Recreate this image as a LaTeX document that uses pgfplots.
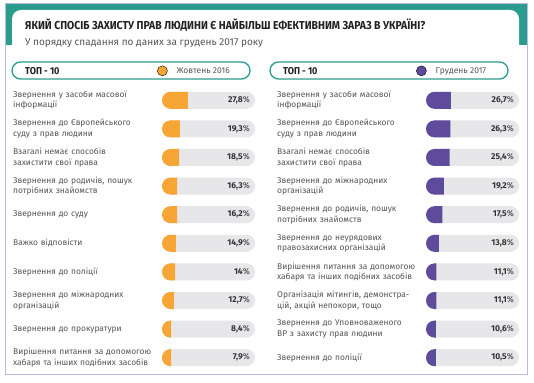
\documentclass[border=0pt]{standalone}
\usepackage{pgfplots}
\pgfplotsset{compat=1.18}
\usepackage{pgfplotstable}
\usepackage{fontspec}
\setmainfont{Fira Sans}
\newfontfamily\condfont[FakeStretch=0.905]{Fira Sans}
\definecolor{tealc}{HTML}{2A9C8E}
\definecolor{framec}{HTML}{B9BAE0}
\definecolor{orangec}{HTML}{F7A534}
\definecolor{purplec}{HTML}{5E4B9C}
\definecolor{trackc}{HTML}{E7E7E9}
\definecolor{labc}{HTML}{555555}
\definecolor{valc}{HTML}{333333}

% left half-disc mark (rounded left end of a filled bar)
\pgfdeclareplotmark{lhd}{%
  \pgfpathmoveto{\pgfqpoint{0.6pt}{\pgfplotmarksize}}%
  \pgfpathlineto{\pgfqpoint{0pt}{\pgfplotmarksize}}%
  \pgfpatharc{90}{270}{\pgfplotmarksize}%
  \pgfpathlineto{\pgfqpoint{0.6pt}{-\pgfplotmarksize}}%
  \pgfpathclose
  \pgfusepathqfill}

\pgfplotstableread{
row val
1 27.8
2 19.3
3 18.5
4 16.3
5 16.2
6 14.9
7 14
8 12.7
9 8.4
10 7.9
}\lefttab
\pgfplotstableread{
row val
1 26.7
2 26.3
3 25.4
4 19.2
5 17.5
6 13.8
7 11.1
8 11.1
9 10.6
10 10.5
}\righttab

\pgfplotsset{
  geom/.style={
    scale only axis, width=93pt, height=286pt,
    ymin=0.5, ymax=10.5, y dir=reverse, clip=false,
  },
  panel/.style={geom,
    xmin=0, xmax=100,
    axis line style={draw=none}, xtick=\empty, ytick={1,...,10},
    major tick length=0pt,
    yticklabel style={anchor=west, text width=145pt, align=left, inner sep=0pt,
      font=\fontsize{8.4}{10.5}\selectfont, text=labc},
    /pgf/number format/.cd, fixed, precision=1, use comma, assume math mode=true,
  },
  overlay/.style={geom, hide axis, xmin=-9.14, xmax=90.86},
  trackplot/.style={xbar, bar width=17pt, fill=trackc, draw=none, rounded corners=8.5pt,
    point meta=explicit,
    nodes near coords={\textbf{\pgfmathprintnumber{\pgfplotspointmeta}}\%},
    nodes near coords align={anchor=east},
    every node near coord/.append style={anchor=east, xshift=-5pt, text=valc,
      font=\fontsize{8.5}{10}\selectfont, inner sep=0pt}},
  capplot/.style={only marks, mark=lhd, mark size=8.5pt},
  barplot/.style={xbar, bar width=17pt, draw=none},
}

\begin{document}
\begin{tikzpicture}[x=1pt,y=1pt]
\path[use as bounding box] (0,0) rectangle (534,382);
\fill[tealc] (5,337) rectangle (527,379);
\fill[white, rounded corners=9pt] (12,8) rectangle (519,372);
\draw[framec, line width=0.8pt] (5,8) rectangle (527,379);
\node[anchor=base west, inner sep=0pt, text=black!87] at (25,352)
  {\condfont\bfseries\fontsize{11.5}{13}\selectfont ЯКИЙ СПОСІБ ЗАХИСТУ ПРАВ ЛЮДИНИ Є НАЙБІЛЬШ ЕФЕКТИВНИМ ЗАРАЗ В УКРАЇНІ?};
\node[anchor=base west, inner sep=0pt, text=labc] at (25,336.5)
  {\fontsize{10}{12}\selectfont У порядку спадання по даних за грудень 2017 року};
% pills
\draw[tealc, line width=1.3pt, rounded corners=8.5pt] (12,303) rectangle (250,320);
\draw[tealc, line width=1.3pt, rounded corners=8.5pt] (270,303) rectangle (508,320);
\node[anchor=base west, inner sep=0pt, text=black!87] at (25,307)
  {\condfont\bfseries\fontsize{10}{12}\selectfont ТОП - 10};
\node[anchor=base west, inner sep=0pt, text=black!87] at (283,307)
  {\condfont\bfseries\fontsize{10}{12}\selectfont ТОП - 10};

% ---------- left panel ----------
\begin{axis}[panel, at={(162pt,296pt)}, anchor=north west,
  yticklabel style={xshift=-149pt},
  yticklabels={{Звернення у засоби масової\\інформації},
    {Звернення до Європейського\\суду з прав людини},
    {Взагалі немає способів\\захистити свої права},
    {Звернення до родичів, пошук\\потрібних знайомств},
    {Звернення до суду},
    {Важко відповісти},
    {Звернення до поліції},
    {Звернення до міжнародних\\організацій},
    {Звернення до прокуратури},
    {Вирішення питання за допомогою\\хабаря та інших подібних засобів}},
  legend style={at={(axis description cs:-0.054,1.053)}, anchor=west, draw=none, fill=none,
    inner sep=0pt, font=\fontsize{8.5}{10}\selectfont, text=labc},
  legend image code/.code={\fill[#1] (5pt,0pt) circle (5pt); \path (17pt,0pt);},
]
\addlegendimage{fill=orangec}
\addlegendentry{Жовтень 2016}
\addplot[trackplot] table[x expr=100, y=row, meta=val] {\lefttab};
\addplot[capplot, orangec] table[x expr=9.14, y=row] {\lefttab};
\end{axis}
\begin{axis}[overlay, at={(162pt,296pt)}, anchor=north west]
\addplot[barplot, fill=orangec] table[x expr=\thisrow{val}-9.14, y=row] {\lefttab};
\end{axis}

% ---------- right panel ----------
\begin{axis}[panel, at={(426pt,296pt)}, anchor=north west,
  yticklabel style={xshift=-149pt},
  yticklabels={{Звернення у засоби масової\\інформації},
    {Звернення до Європейського\\суду з прав людини},
    {Взагалі немає способів\\захистити свої права},
    {Звернення до міжнародних\\організацій},
    {Звернення до родичів, пошук\\потрібних знайомств},
    {Звернення до неурядових\\правозахисних організацій},
    {Вирішення питання за допомогою\\хабаря та інших подібних засобів},
    {Організація мітингів, демонстра-\\цій, акцій непокори, тощо},
    {Звернення до Уповноваженого\\ВР з захисту прав людини},
    {Звернення до поліції}},
  legend style={at={(axis description cs:-0.1075,1.053)}, anchor=west, draw=none, fill=none,
    inner sep=0pt, font=\fontsize{8.5}{10}\selectfont, text=labc},
  legend image code/.code={\fill[#1] (5pt,0pt) circle (5pt); \path (17pt,0pt);},
]
\addlegendimage{fill=purplec}
\addlegendentry{Грудень 2017}
\addplot[trackplot] table[x expr=100, y=row, meta=val] {\righttab};
\addplot[capplot, purplec] table[x expr=9.14, y=row] {\righttab};
\end{axis}
\begin{axis}[overlay, at={(426pt,296pt)}, anchor=north west]
\addplot[barplot, fill=purplec] table[x expr=\thisrow{val}-9.14, y=row] {\righttab};
\end{axis}
\end{tikzpicture}
\end{document}
